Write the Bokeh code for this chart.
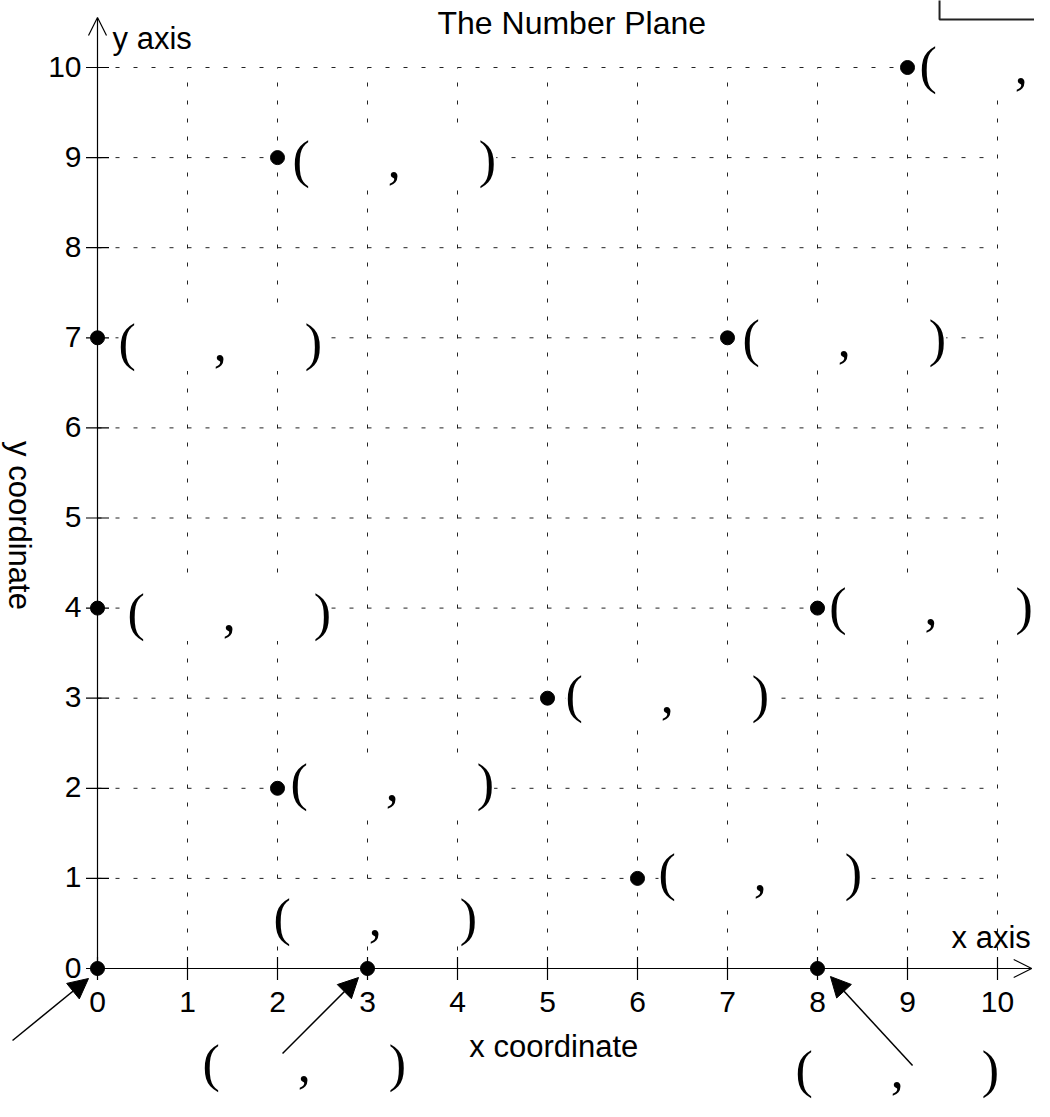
from bokeh.plotting import figure
from bokeh.models import Range1d, Arrow, OpenHead, NormalHead, BoxAnnotation
from bokeh.core.properties import value
from bokeh.embed import file_html
from bokeh.resources import INLINE
import math

# ---- data ----
title_text = "The Number Plane"
x_axis_name = "x axis"
y_axis_name = "y axis"
x_title = "x coordinate"
y_title = "y coordinate"

tick_values = [0, 1, 2, 3, 4, 5, 6, 7, 8, 9, 10]
tick_labels = ["0", "1", "2", "3", "4", "5", "6", "7", "8", "9", "10"]
x_axis_end = 10.38
y_axis_end = 10.556

point_x = [9, 2, 0, 7, 0, 8, 5, 2, 6, 0, 3, 8]
point_y = [10, 9, 7, 7, 4, 4, 3, 2, 1, 0, 0, 0]

blank = "\u00a0" * 6
label_text = "(" + blank + "," + blank + ")"
label_x = [9.133, 2.167, 0.233, 7.167, 0.333, 8.13, 5.2, 2.144, 6.233, 1.956, 1.167, 7.756]
label_y = [9.811, 8.768, 6.737, 6.781, 3.740, 3.807, 2.830, 1.853, 0.855, 0.355, -1.27, -1.33]

arrow_x_start = [-0.944, 2.056, 9.056]
arrow_y_start = [-0.799, -0.943, -1.077]
arrow_x_end = [-0.1, 2.9, 8.144]
arrow_y_end = [-0.111, -0.1, -0.089]

# ---- figure ----
W, H = 1034, 1101
X0PX, Y0PX, XSC, YSC = 97, 968, 90.0, 90.1
p = figure(width=W, height=H,
           x_range=Range1d(-X0PX / XSC, (W - X0PX) / XSC),
           y_range=Range1d((Y0PX - H) / YSC, Y0PX / YSC),
           x_axis_type=None, y_axis_type=None,
           output_backend="svg", toolbar_location=None,
           min_border=0, min_border_left=0, min_border_right=0,
           min_border_top=0, min_border_bottom=0,
           outline_line_color=None, background_fill_color="white",
           border_fill_color="white")
p.grid.visible = False

SANS = value("Liberation Sans")
SERIF = value("Liberation Serif")

# grid (dotted)
lo, hi = tick_values[0], tick_values[-1]
n = len(tick_values)
p.segment(x0=tick_values, y0=[lo] * n, x1=tick_values, y1=[hi] * n,
          line_color="#222222", line_width=1, line_dash="4 14")
p.segment(x0=[lo] * n, y0=tick_values, x1=[hi] * n, y1=tick_values,
          line_color="#222222", line_width=1, line_dash="4 14")

# axes with open arrow heads
p.add_layout(Arrow(end=OpenHead(size=18, line_width=1.2, line_color="black"),
                   x_start=0, y_start=0, x_end=x_axis_end, y_end=0,
                   line_color="black", line_width=1.2))
p.add_layout(Arrow(end=OpenHead(size=18, line_width=1.2, line_color="black"),
                   x_start=0, y_start=0, x_end=0, y_end=y_axis_end,
                   line_color="black", line_width=1.2))

# tick marks
p.scatter(x=tick_values, y=[0] * n, marker="dash", size=23,
          angle=math.pi / 2, line_color="black", line_width=1.2)
p.scatter(x=[0] * n, y=tick_values, marker="dash", size=23,
          angle=0, line_color="black", line_width=1.2)

# tick labels
p.text(x=tick_values, y=[0] * n, text=tick_labels,
       text_align="center", text_baseline="alphabetic", y_offset=33,
       text_font=SANS, text_font_size="30px", text_color="black")
p.text(x=[0] * n, y=tick_values, text=tick_labels,
       text_align="right", text_baseline="alphabetic", x_offset=-16, y_offset=-1,
       text_font=SANS, text_font_size="30px", text_color="black")

# coordinate labels with white backgrounds
p.text(x=label_x, y=label_y, text=[label_text] * len(label_x),
       text_align="left", text_baseline="alphabetic", y_offset=-19,
       text_font=SERIF, text_font_size="52px", text_color="black",
       background_fill_color="white")

# points
p.scatter(x=point_x, y=point_y, size=14, color="black")

# pointer arrows
for xs, ys, xe, ye in zip(arrow_x_start, arrow_y_start, arrow_x_end, arrow_y_end):
    p.add_layout(Arrow(end=NormalHead(size=20, fill_color="black", line_color="black"),
                       x_start=xs, y_start=ys, x_end=xe, y_end=ye,
                       line_color="black", line_width=1.5))

# text
p.text(x=[5.27], y=[10.366], text=[title_text], text_align="center", y_offset=-12,
       text_baseline="alphabetic", text_font=SANS, text_font_size="32px", text_color="black")
p.text(x=[0.167], y=[10.211], text=[y_axis_name], text_align="left", y_offset=-10,
       text_baseline="alphabetic", text_font=SANS, text_font_size="31px", text_color="black")
p.text(x=[10.37], y=[0.211], text=[x_axis_name], text_align="right", y_offset=-12,
       text_baseline="alphabetic", text_font=SANS, text_font_size="31px", text_color="black")
p.text(x=[5.07], y=[-1.0], text=[x_title], text_align="center", y_offset=-12,
       text_baseline="alphabetic", text_font=SANS, text_font_size="31px", text_color="black")
p.text(x=[-0.87], y=[4.917], text=[y_title], text_align="center", angle=-math.pi / 2,
       text_baseline="alphabetic", text_font=SANS, text_font_size="31px", text_color="black")

# box in top-right corner
p.add_layout(BoxAnnotation(left=9.356, right=12, bottom=10.533, top=12,
                           fill_color=None, fill_alpha=0, line_color="#222222",
                           line_alpha=1.0, line_width=2))

open("out.html", "w").write(file_html(p, INLINE))
